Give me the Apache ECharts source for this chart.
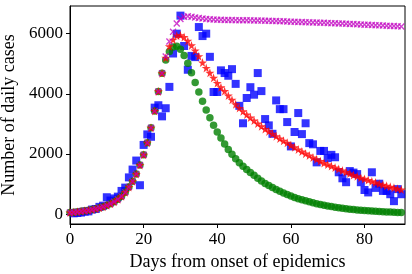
<!DOCTYPE html>
<html>
<head>
<meta charset="utf-8">
<script src="https://cdn.jsdelivr.net/npm/echarts@6/dist/echarts.min.js"></script>
<style>html,body{margin:0;padding:0;background:#fff;}#c{width:412px;height:274px;}</style>
</head>
<body>
<div id="c"></div>
<script>
// Tick labels
const xTicks = [0, 20, 40, 60, 80];
const yTicks = [0, 2000, 4000, 6000];

// Shared model values, days 0..25 (all three models coincide)
const modelStartDay = 0;
const modelRise = [50, 62, 75, 90, 107, 127, 150, 177, 208, 245, 290, 345, 410, 490, 590, 730,
  900, 1090, 1330, 1630, 1970, 2370, 2870, 3430, 4080, 4680];

// Model A (green circles), days 26..90
const greenTail = [5120, 5410, 5560, 5580, 5480, 5270, 5020, 4700, 4380, 4060, 3750, 3460, 3200,
  2950, 2730, 2530, 2330, 2150, 1990, 1840, 1710, 1590, 1480, 1380, 1290, 1190, 1100, 1020, 950,
  880, 820, 760, 700, 650, 600, 555, 510, 475, 440, 410, 377, 347, 319, 294, 270, 249, 229, 210,
  194, 178, 164, 151, 139, 128, 117, 108, 99, 91, 84, 77, 71, 65, 60, 55, 51];

// Model B (red stars), days 26..90
const redTail = [5200, 5580, 5800, 5940, 5950, 5890, 5760, 5610, 5440, 5250, 5040, 4860, 4700,
  4530, 4360, 4215, 4090, 3940, 3800, 3650, 3530, 3420, 3310, 3210, 3110, 3010, 2920, 2830, 2750,
  2670, 2590, 2510, 2440, 2370, 2290, 2220, 2150, 2080, 2010, 1950, 1880, 1820, 1760, 1700, 1650,
  1600, 1550, 1500, 1450, 1400, 1350, 1300, 1260, 1210, 1170, 1130, 1090, 1050, 1010, 975, 940,
  905, 875, 845, 815];

// Model C (magenta crosses), days 26..90
const magentaTail = [5240, 5740, 6060, 6340, 6490, 6560, 6575, 6560, 6540, 6520, 6505, 6490, 6480,
  6470, 6465, 6460, 6457, 6455, 6452, 6450, 6448, 6446, 6444, 6442, 6440, 6437, 6434, 6430, 6426,
  6422, 6418, 6414, 6410, 6405, 6400, 6395, 6390, 6385, 6380, 6376, 6372, 6368, 6364, 6360, 6355,
  6350, 6345, 6340, 6335, 6330, 6324, 6318, 6312, 6306, 6300, 6294, 6288, 6282, 6276, 6270, 6264,
  6258, 6252, 6246, 6240];

// Observed daily cases (blue squares), days 1..90
const observedStartDay = 1;
const observed = [25, 35, 50, 80, 90, 150, 170, 240, 280, 560, 450, 520, 580, 770, 880, 1220, 1480,
  1780, 960, 2300, 2650, 2570, 3540, 3620, 3250, 3520, 4230, 5340, 6000, 6600, 5590, 4800, 5260,
  5220, 6220, 5920, 6000, 5230, 4060, 4060, 4780, 4690, 4600, 4820, 4330, 3600, 3020, 3860, 4220,
  3970, 4690, 4090, 3160, 2950, 2670, 3780, 3490, 3490, 3060, 2250, 2730, 3360, 2660, 3020, 2360,
  2320, 1720, 2100, 2100, 1860, 1970, 1890, 1390, 1190, 1060, 1430, 1380, 1330, 1060, 800, 720,
  1390, 870, 1010, 770, 770, 660, 430, 830, 660];

function toPairs(vals, start) { return vals.map((v, i) => [start + i, v]); }
const green = toPairs(modelRise.concat(greenTail), modelStartDay);
const red = toPairs(modelRise.concat(redTail), modelStartDay);
const magenta = toPairs(modelRise.concat(magentaTail), modelStartDay);
const obs = toPairs(observed, observedStartDay);

const FONT = 'Liberation Serif';
const starPath = 'path://M50,0 L61,35 L98,35 L68,57 L79,91 L50,70 L21,91 L32,57 L2,35 L39,35 Z';
const xPath = 'path://M0,14 L14,0 L50,36 L86,0 L100,14 L64,50 L100,86 L86,100 L50,64 L14,100 L0,86 L36,50 Z';
const plain = v => String(v);

const chart = echarts.init(document.getElementById('c'), null, {renderer: 'canvas'});
chart.setOption({
  animation: false,
  backgroundColor: '#fff',
  grid: {left: 70, right: 7, top: 6, bottom: 50, containLabel: false, outerBoundsMode: 'none',
    show: true, borderColor: '#000', borderWidth: 1, backgroundColor: 'transparent'},
  xAxis: {
    type: 'value', min: 0, max: 91,
    name: 'Days from onset of epidemics', nameLocation: 'middle', nameGap: 26,
    nameTextStyle: {fontFamily: FONT, fontSize: 18, color: '#000'},
    axisLine: {show: true, onZero: false, lineStyle: {color: '#000', width: 1}},
    axisTick: {show: true, inside: false, length: 4, lineStyle: {color: '#000'}, customValues: xTicks},
    axisLabel: {fontFamily: FONT, fontSize: 17, color: '#000', margin: 7, customValues: xTicks, formatter: plain},
    splitLine: {show: false}
  },
  yAxis: {
    type: 'value', min: -330, max: 6920,
    name: 'Number of daily cases', nameLocation: 'middle', nameGap: 47,
    nameTextStyle: {fontFamily: FONT, fontSize: 18, color: '#000'},
    axisLine: {show: true, onZero: false, lineStyle: {color: '#000', width: 1}},
    axisTick: {show: true, inside: false, length: 4, lineStyle: {color: '#000'}, customValues: yTicks},
    axisLabel: {fontFamily: FONT, fontSize: 17, color: '#000', margin: 7, customValues: yTicks, formatter: plain},
    splitLine: {show: false}
  },
  series: [
    {type: 'scatter', data: obs, symbol: 'rect', symbolSize: 8, itemStyle: {color: '#0000ff'}, z: 1},
    {type: 'scatter', data: green, symbol: 'circle', symbolSize: 7.5, itemStyle: {color: '#008000'}, z: 2},
    {type: 'scatter', data: red, symbol: starPath, symbolSize: 9, itemStyle: {color: '#ff0000'}, z: 3},
    {type: 'scatter', data: magenta, symbol: xPath, symbolSize: 7, itemStyle: {color: '#c000c0', opacity: 0.75}, z: 4}
  ]
});
</script>
</body>
</html>
